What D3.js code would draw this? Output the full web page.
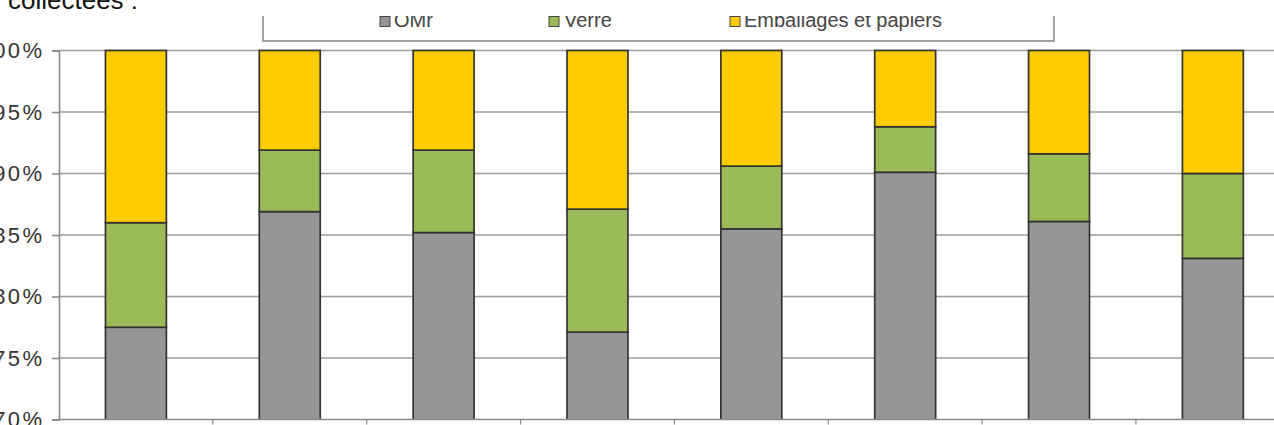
<!DOCTYPE html>
<html>
<head>
<meta charset="utf-8">
<script src="https://cdn.jsdelivr.net/npm/d3@7"></script>
<style>
  html, body { margin: 0; padding: 0; background: #fff; overflow: hidden; }
  svg { display: block; }
</style>
</head>
<body>
<svg id="chart" width="1274" height="425"></svg>
<script>
// Share of each waste stream in the collected tonnage, per sector
const categories = ["Secteur 1", "Secteur 2", "Secteur 3", "Secteur 4", "Secteur 5", "Secteur 6", "Secteur 7", "Secteur 8"];
const omr        = [77.5, 86.9, 85.2, 77.1, 85.5, 90.1, 86.1, 83.1];
const verre      = [ 8.5,  5.0,  6.7, 10.0,  5.1,  3.7,  5.5,  6.9];
const emballages = [14.0,  8.1,  8.1, 12.9,  9.4,  6.2,  8.4, 10.0];
const seriesNames = ["OMr", "Verre", "Emballages et papiers"];
const yTicks = [70, 75, 80, 85, 90, 95, 100];

const colors = { "OMr": "#969696", "Verre": "#9bbb59", "Emballages et papiers": "#ffcc00" };

const svg = d3.select("#chart");
const W = 1274;

const plot = { left: 59, top: 50.5, bottom: 419.5, step: 153.85 };

const x = d3.scaleBand()
  .domain(categories)
  .range([plot.left, plot.left + plot.step * categories.length])
  .paddingInner(0.604)
  .paddingOuter(0.302);

const y = d3.scaleLinear().domain([70, 100]).range([plot.bottom, plot.top]);

// Intro text line above the chart
svg.append("text")
  .attr("x", 8).attr("y", 9)
  .attr("font-family", "Liberation Sans, Arial, sans-serif")
  .attr("font-size", 26)
  .attr("fill", "#111")
  .text("collectées :");

// Chart area (its top edge starts below the intro line)
const defs = svg.append("defs");
defs.append("clipPath").attr("id", "chartClip")
  .append("rect").attr("x", 0).attr("y", 16).attr("width", W).attr("height", 425 - 16);
const g = svg.append("g").attr("clip-path", "url(#chartClip)");

// Horizontal gridlines
g.append("g")
  .selectAll("line")
  .data(yTicks.filter(t => t > 70))
  .join("line")
  .attr("x1", plot.left).attr("x2", W + 40)
  .attr("y1", d => y(d)).attr("y2", d => y(d))
  .attr("stroke", "#9d9d9d").attr("stroke-width", 1.6);

// Stacked data
const rows = categories.map((c, i) => ({ cat: c, "OMr": omr[i], "Verre": verre[i], "Emballages et papiers": emballages[i] }));
const stack = d3.stack().keys(seriesNames)(rows);

// Bars, clipped at the 70% baseline
defs.append("clipPath").attr("id", "barClip")
  .append("rect").attr("x", plot.left).attr("y", plot.top - 2)
  .attr("width", W).attr("height", plot.bottom - plot.top + 2);

const bars = g.append("g").attr("clip-path", "url(#barClip)");
stack.forEach(layer => {
  bars.append("g")
    .selectAll("rect")
    .data(layer)
    .join("rect")
    .attr("x", d => x(d.data.cat))
    .attr("width", x.bandwidth())
    .attr("y", d => y(d[1]))
    .attr("height", d => y(Math.max(d[0], 0)) - y(d[1]))
    .attr("fill", colors[layer.key])
    .attr("stroke", "#333")
    .attr("stroke-width", 1.7);
});

// Y axis
const yAxis = d3.axisLeft(y)
  .tickValues(yTicks)
  .tickSize(7)
  .tickPadding(7.6)
  .tickFormat(d => d + "%");
const ya = g.append("g")
  .attr("transform", `translate(${plot.left},0)`)
  .call(yAxis);
ya.select(".domain").attr("stroke", "#8a8a8a").attr("stroke-width", 1.6);
ya.selectAll(".tick line").attr("stroke", "#8a8a8a").attr("stroke-width", 1.6);
ya.selectAll(".tick text")
  .attr("font-family", "Liberation Sans, Arial, sans-serif")
  .attr("font-size", 22)
  .attr("letter-spacing", 2.4)
  .attr("fill", "#333");

// X axis baseline with ticks between categories
g.append("line")
  .attr("x1", plot.left).attr("x2", W + 40)
  .attr("y1", plot.bottom).attr("y2", plot.bottom)
  .attr("stroke", "#8a8a8a").attr("stroke-width", 1.6);
g.append("g")
  .selectAll("line")
  .data(categories.slice(1))
  .join("line")
  .attr("x1", d => x(d) - x.step() * x.paddingInner() / 2)
  .attr("x2", d => x(d) - x.step() * x.paddingInner() / 2)
  .attr("y1", plot.bottom).attr("y2", plot.bottom + 5)
  .attr("stroke", "#8a8a8a").attr("stroke-width", 1.2);

// Legend box
const legend = g.append("g");
legend.append("rect")
  .attr("x", 263).attr("y", -30)
  .attr("width", 1054 - 263).attr("height", 41 + 30)
  .attr("fill", "#fff")
  .attr("stroke", "#8c8c8c").attr("stroke-width", 1.6);

const legendPos = [
  { key: "OMr", sx: 380, tx: 394 },
  { key: "Verre", sx: 549, tx: 564 },
  { key: "Emballages et papiers", sx: 730, tx: 744 }
];
legendPos.forEach(p => {
  legend.append("rect")
    .attr("x", p.sx).attr("y", 16.5)
    .attr("width", 10).attr("height", 10)
    .attr("fill", colors[p.key])
    .attr("stroke", "#444").attr("stroke-width", 1);
  legend.append("text")
    .attr("x", p.tx).attr("y", 27)
    .attr("font-family", "Liberation Sans, Arial, sans-serif")
    .attr("font-size", 20)
    .attr("fill", "#444")
    .text(p.key);
});
</script>
</body>
</html>
